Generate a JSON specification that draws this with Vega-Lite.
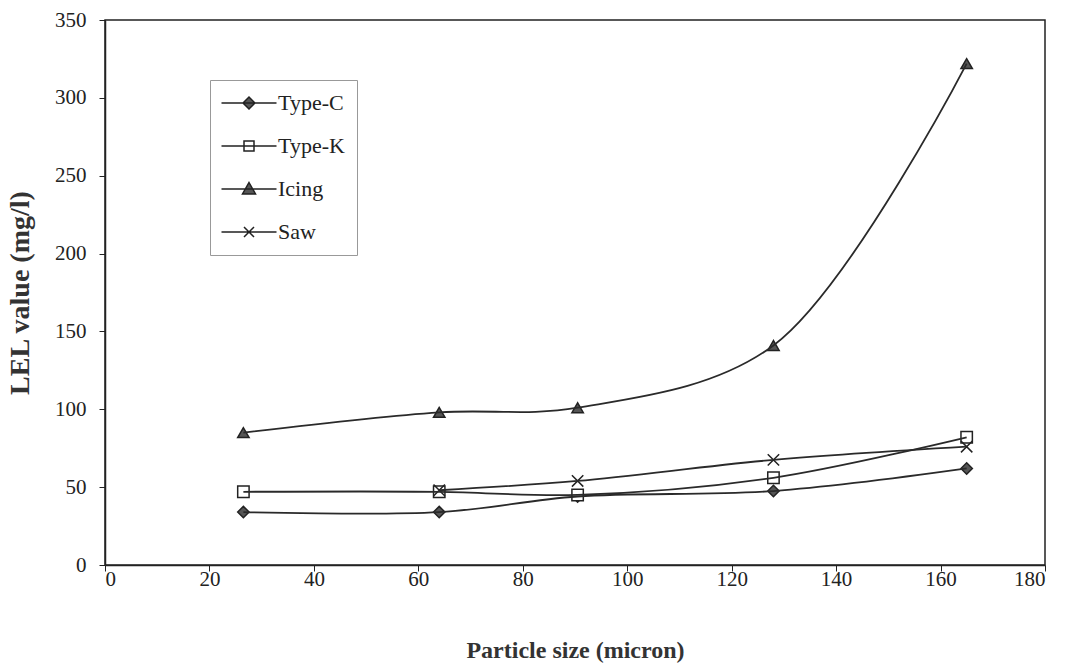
{
  "$schema": "https://vega.github.io/schema/vega-lite/v6.json",
  "width": 940,
  "height": 545,
  "autosize": {"type": "none"},
  "padding": {"left": 105, "top": 20, "right": 26, "bottom": 105},
  "background": "white",
  "config": {
    "font": "Liberation Serif",
    "view": {"stroke": "#222", "strokeWidth": 1.5},
    "axis": {"grid": false, "domainColor": "#222", "domainWidth": 1.5, "tickColor": "#222", "labelFont": "Liberation Serif", "titleFont": "Liberation Serif", "labelFontSize": 21, "labelColor": "#222", "titleColor": "#333", "titleFontWeight": "bold"}
  },
  "data": {"values": [
    {"series": "Type-C", "size": 26.5, "lel": 34},
    {"series": "Type-C", "size": 64, "lel": 34},
    {"series": "Type-C", "size": 90.5, "lel": 44},
    {"series": "Type-C", "size": 128, "lel": 47.5},
    {"series": "Type-C", "size": 165, "lel": 62},
    {"series": "Type-K", "size": 26.5, "lel": 47},
    {"series": "Type-K", "size": 64, "lel": 47},
    {"series": "Type-K", "size": 90.5, "lel": 45},
    {"series": "Type-K", "size": 128, "lel": 56},
    {"series": "Type-K", "size": 165, "lel": 82},
    {"series": "Icing", "size": 26.5, "lel": 85},
    {"series": "Icing", "size": 64, "lel": 98},
    {"series": "Icing", "size": 90.5, "lel": 101},
    {"series": "Icing", "size": 128, "lel": 141},
    {"series": "Icing", "size": 165, "lel": 322},
    {"series": "Saw", "size": 64, "lel": 48},
    {"series": "Saw", "size": 90.5, "lel": 54},
    {"series": "Saw", "size": 128, "lel": 67.5},
    {"series": "Saw", "size": 165, "lel": 76}
  ]},
  "encoding": {
    "x": {"field": "size", "type": "quantitative", "scale": {"domain": [0, 180], "nice": false}, "axis": {"values": [0,20,40,60,80,100,120,140,160,180], "tickSize": 6, "labelPadding": -3, "title": "Particle size (micron)", "titleFontSize": 24, "titlePadding": 49}},
    "y": {"field": "lel", "type": "quantitative", "scale": {"domain": [0, 350], "nice": false}, "axis": {"values": [0,50,100,150,200,250,300,350], "tickSize": 6, "labelPadding": 13, "title": "LEL value (mg/l)", "titleFontSize": 28, "titlePadding": 20}}
  },
  "resolve": {"scale": {"shape": "independent", "fill": "independent"}, "legend": {"shape": "independent", "fill": "independent"}},
  "layer": [
    {
      "mark": {"type": "point", "filled": false, "size": 130, "stroke": "#222", "strokeWidth": 1.5, "opacity": 1},
      "encoding": {
        "shape": {"field": "series", "type": "nominal", "scale": {"domain": ["Type-C", "Type-K", "Icing", "Saw"], "range": ["diamond", "square", "triangle-up", "M-1,-1L1,1M-1,1L1,-1"]}, "legend": null},
        "fill": {"field": "series", "type": "nominal", "scale": {"domain": ["Type-C", "Type-K", "Icing", "Saw"], "range": ["#555555", "#ffffff", "#555555", "transparent"]}, "legend": null}
      }
    },
    {
      "mark": {"type": "line", "interpolate": "catmull-rom", "color": "#2a2a2a", "strokeWidth": 1.8},
      "encoding": {"detail": {"field": "series"}}
    },
    {
      "mark": {"type": "point", "filled": false, "size": 1, "stroke": "#222", "strokeWidth": 1.5, "opacity": 0},
      "encoding": {
        "shape": {"field": "series", "type": "nominal",
          "scale": {"domain": ["Type-C", "Type-K", "Icing", "Saw"], "range": ["M-5.5,0H5.5M-1.2,0L0,-1.2L1.2,0L0,1.2Z", "M-5.5,0H5.5M-1,-1H1V1H-1Z", "M-5.5,0H5.5M0,-1.3L1.3,1L-1.3,1Z", "M-5.5,0H5.5M-1,-1L1,1M-1,1L1,-1"]},
          "legend": {
            "title": null, "orient": "none", "legendX": 105, "legendY": 60,
            "padding": 12, "strokeColor": "#999", "fillColor": "white",
            "symbolSize": 100, "symbolOffset": 16, "labelOffset": 18, "rowPadding": 21,
            "symbolOpacity": 1,
            "labelFont": "Liberation Serif", "labelFontSize": 22, "labelColor": "#222",
            "labelLimit": 200,
            "encode": {
              "symbols": {
                "fill": {"value": {"expr": "datum.value === 'Type-C' || datum.value === 'Icing' ? '#555' : datum.value === 'Type-K' ? 'white' : 'transparent'"}},
                "stroke": {"value": "#222"},
                "strokeWidth": {"value": 1.5},
                "opacity": {"value": 1}
              }
            }
          }
        },
        "fill": {"field": "series", "type": "nominal", "scale": {"domain": ["Type-C", "Type-K", "Icing", "Saw"], "range": ["#555555", "#ffffff", "#555555", "transparent"]}, "legend": null}
      }
    }
  ]
}
